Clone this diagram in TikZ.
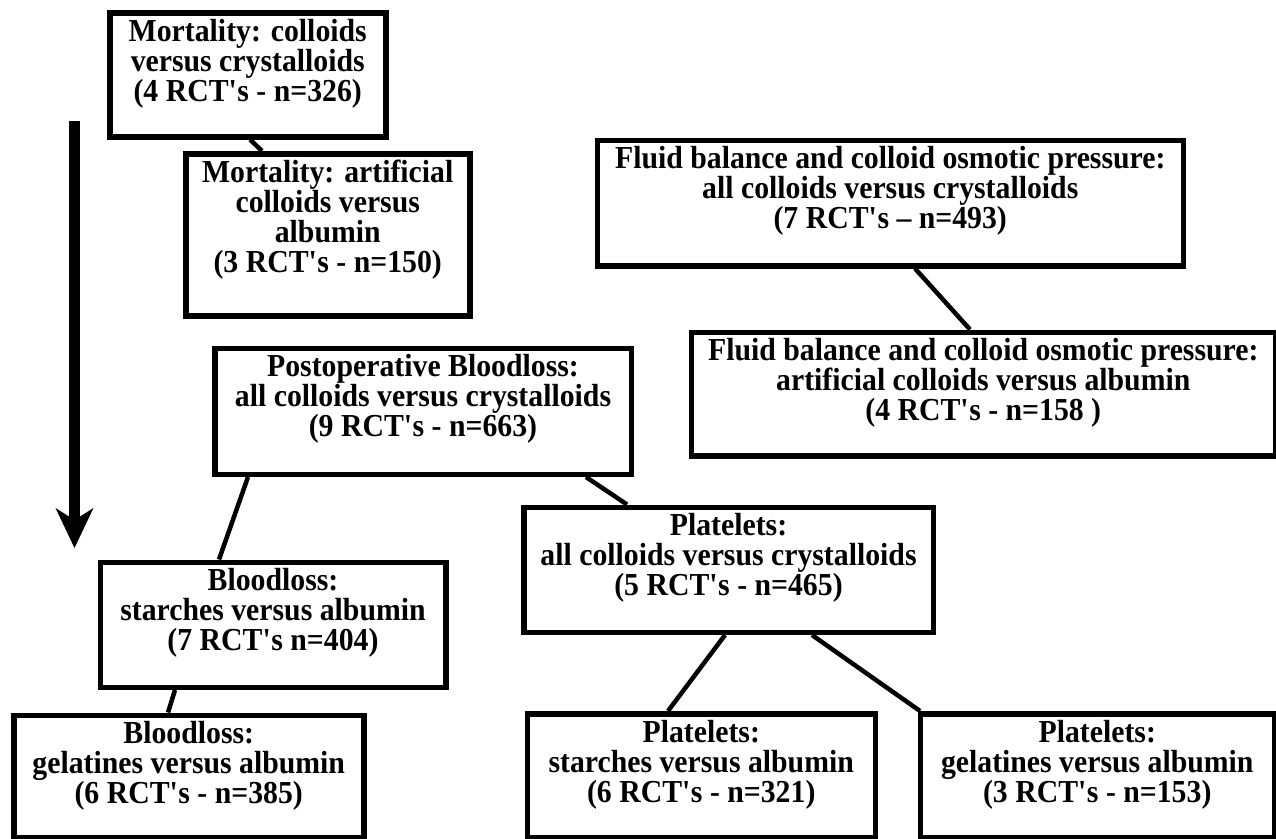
\documentclass[tikz,border=0pt]{standalone}
\usepackage{fontspec}
\setmainfont{Liberation Serif}[FakeStretch=0.93]
\usetikzlibrary{arrows.meta}
\newcommand{\bxt}[3]{\parbox[c][#2][t]{#1}{\centering\rule{0pt}{28.5pt}#3\par}}
\newcommand{\sq}{\textquotesingle}
\begin{document}
\begin{tikzpicture}[x=1pt,y=-1pt,
  box/.style={draw, line width=5.5pt, fill=white, inner sep=0pt, anchor=north west,
    font=\bfseries\fontsize{32}{30}\selectfont},
  link/.style={line width=4.5pt}]
\useasboundingbox (0,0) rectangle (1276,838);
% boxes
\node[box] (b1) at (107,10) {\bxt{276pt}{124pt}{Mortality: colloids\\versus crystalloids\\(4 RCT\sq s - n=326)}};
\node[box] (b2) at (183,151) {\bxt{284pt}{162pt}{Mortality: artificial\\colloids versus\\albumin\\(3 RCT\sq s - n=150)}};
\node[box] (b3) at (594.5,137.5) {\bxt{586pt}{125.5pt}{Fluid balance and colloid osmotic pressure:\\all colloids versus crystalloids\\(7 RCT\sq s – n=493)}};
\node[box] (b4) at (688.5,329.5) {\bxt{584pt}{123.5pt}{Fluid balance and colloid osmotic pressure:\\artificial colloids versus albumin\\(4 RCT\sq s - n=158 )}};
\node[box] (b5) at (212,345.5) {\bxt{416.5pt}{126pt}{Postoperative Bloodloss:\\all colloids versus crystalloids\\(9 RCT\sq s - n=663)}};
\node[box] (b6) at (521,504.5) {\bxt{409.5pt}{125pt}{Platelets:\\all colloids versus crystalloids\\(5 RCT\sq s - n=465)}};
\node[box] (b7) at (97.5,559.5) {\bxt{345.5pt}{125pt}{Bloodloss:\\starches versus albumin\\(7 RCT\sq s n=404)}};
\node[box] (b8) at (11,712.5) {\bxt{350pt}{122.5pt}{Bloodloss:\\gelatines versus albumin\\(6 RCT\sq s - n=385)}};
\node[box] (b9) at (524.5,711) {\bxt{348pt}{124pt}{Platelets:\\starches versus albumin\\(6 RCT\sq s - n=321)}};
\node[box] (b10) at (917.5,711) {\bxt{354pt}{124pt}{Platelets:\\gelatines versus albumin\\(3 RCT\sq s - n=153)}};
% connectors
\draw[link] ([xshift=143pt]b1.south west) -- ([xshift=79pt]b2.north west);
\draw[link] ([xshift=320.5pt]b3.south west) -- ([xshift=281.5pt]b4.north west);
\draw[link] ([xshift=36pt]b5.south west) -- ([xshift=121.5pt]b7.north west);
\draw[link] ([xshift=374pt]b5.south west) -- ([xshift=106pt]b6.north west);
\draw[link] ([xshift=77.5pt]b7.south west) -- ([xshift=157pt]b8.north west);
\draw[link] ([xshift=204pt]b6.south west) -- ([xshift=143.5pt]b9.north west);
\draw[link] ([xshift=291pt]b6.south west) -- ([xshift=2.5pt]b10.north west);
% arrow
\coordinate (atop) at (74.5,121);
\coordinate (atip) at (74.5,548);
\draw[line width=11.5pt, -{Stealth[length=40pt, width=38pt, inset=12pt, line width=0pt]}] (atop) -- (atip);
\end{tikzpicture}
\end{document}
